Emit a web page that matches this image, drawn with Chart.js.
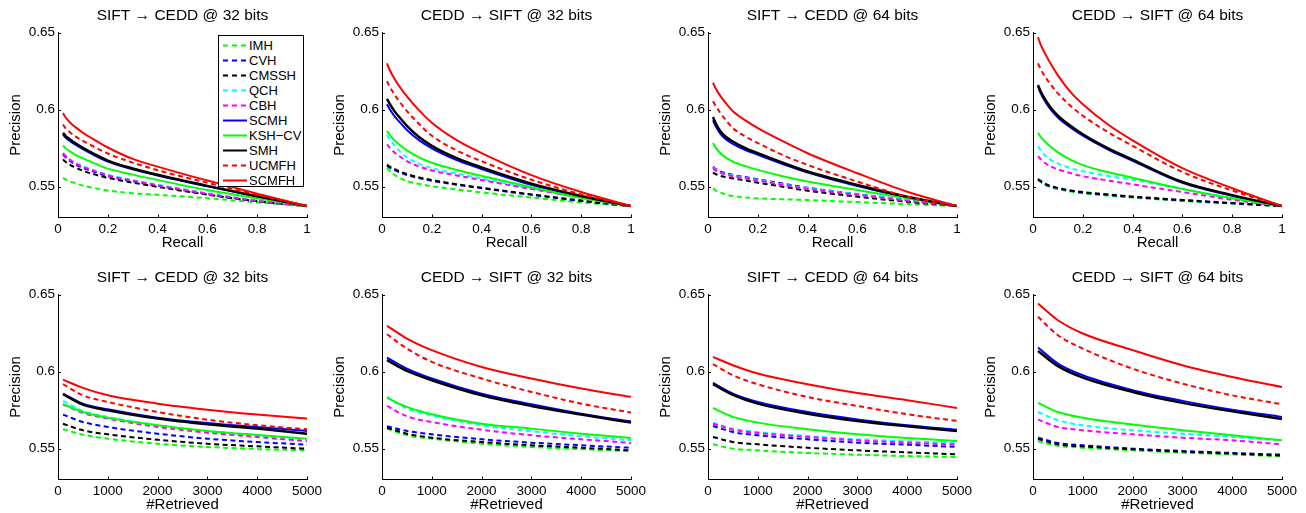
<!DOCTYPE html>
<html><head><meta charset="utf-8">
<script src="https://cdn.jsdelivr.net/npm/chart.js@4"></script>
<style>
html,body{margin:0;padding:0;background:#fff}
body{width:1306px;height:513px;overflow:hidden;position:relative;font-family:"Liberation Sans",Arial,Helvetica,sans-serif}
canvas{position:absolute}
#legend{position:absolute;left:218px;top:35px;width:86px;height:152px;border:1px solid #000;background:#fff;box-sizing:border-box}
.item{position:absolute;left:0;width:84px;height:15px;font-size:13px;line-height:15px;color:#000;white-space:nowrap}
.item svg{position:absolute;left:4px;top:6px}
.item span{position:absolute;left:30px;top:0}
</style></head><body>
<div id="wrap"></div>
<script>
// ---------------- data ----------------
const methods = ['IMH','CVH','CMSSH','QCH','CBH','SCMH','KSH\u2212CV','SMH','UCMFH','SCMFH'];
const titles = ['SIFT \u2192 CEDD @ 32 bits','CEDD \u2192 SIFT @ 32 bits','SIFT \u2192 CEDD @ 64 bits','CEDD \u2192 SIFT @ 64 bits'];
const recallX = [0.02,0.03,0.05,0.07,0.1,0.15,0.2,0.3,0.4,0.6,0.8,1.0];
const retrievedX = [100,500,1000,2000,3000,4000,5000];
const yTicks = [0.55,0.6,0.65];
const recallTicks = [0,0.2,0.4,0.6,0.8,1];
const retrievedTicks = [0,1000,2000,3000,4000,5000];

// precision-recall, rows in order of `methods`
const pr1 = [
 [0.5557,0.5548,0.5533,0.5522,0.5507,0.5490,0.5475,0.5457,0.5447,0.5425,0.5398,0.5374],
 [0.5710,0.5692,0.5665,0.5645,0.5622,0.5594,0.5568,0.5535,0.5506,0.5451,0.5406,0.5374],
 [0.5677,0.5662,0.5640,0.5624,0.5603,0.5578,0.5557,0.5526,0.5499,0.5448,0.5406,0.5374],
 [0.5720,0.5702,0.5675,0.5655,0.5632,0.5603,0.5577,0.5543,0.5513,0.5457,0.5410,0.5374],
 [0.5716,0.5698,0.5671,0.5651,0.5628,0.5599,0.5573,0.5539,0.5509,0.5454,0.5408,0.5374],
 [0.5838,0.5819,0.5794,0.5772,0.5743,0.5700,0.5662,0.5612,0.5572,0.5502,0.5436,0.5374],
 [0.5767,0.5750,0.5727,0.5707,0.5683,0.5649,0.5617,0.5578,0.5543,0.5478,0.5424,0.5374],
 [0.5849,0.5830,0.5805,0.5782,0.5752,0.5708,0.5669,0.5618,0.5577,0.5505,0.5438,0.5374],
 [0.5903,0.5880,0.5850,0.5826,0.5797,0.5754,0.5715,0.5656,0.5607,0.5525,0.5448,0.5374],
 [0.5978,0.5950,0.5913,0.5886,0.5850,0.5800,0.5754,0.5680,0.5630,0.5540,0.5455,0.5374]
];
const pr2 = [
 [0.5622,0.5605,0.5577,0.5558,0.5536,0.5517,0.5503,0.5482,0.5463,0.5430,0.5398,0.5374],
 [0.5635,0.5625,0.5608,0.5594,0.5576,0.5555,0.5538,0.5512,0.5490,0.5447,0.5408,0.5374],
 [0.5643,0.5632,0.5615,0.5600,0.5582,0.5560,0.5543,0.5516,0.5493,0.5450,0.5410,0.5374],
 [0.5835,0.5810,0.5768,0.5732,0.5690,0.5648,0.5620,0.5585,0.5553,0.5490,0.5428,0.5374],
 [0.5775,0.5755,0.5722,0.5697,0.5665,0.5630,0.5605,0.5573,0.5543,0.5485,0.5428,0.5374],
 [0.6035,0.6005,0.5958,0.5920,0.5868,0.5800,0.5748,0.5672,0.5615,0.5512,0.5436,0.5374],
 [0.5860,0.5838,0.5800,0.5772,0.5735,0.5688,0.5655,0.5608,0.5570,0.5496,0.5428,0.5374],
 [0.6070,0.6040,0.5990,0.5950,0.5895,0.5820,0.5765,0.5685,0.5625,0.5520,0.5440,0.5374],
 [0.6185,0.6150,0.6098,0.6052,0.5990,0.5905,0.5830,0.5735,0.5665,0.5545,0.5450,0.5374],
 [0.6300,0.6260,0.6200,0.6150,0.6085,0.5993,0.5915,0.5802,0.5718,0.5575,0.5465,0.5374]
];
const pr3 = [
 [0.5489,0.5476,0.5461,0.5450,0.5439,0.5430,0.5424,0.5418,0.5413,0.5400,0.5387,0.5374],
 [0.5630,0.5616,0.5598,0.5588,0.5576,0.5562,0.5548,0.5520,0.5493,0.5452,0.5413,0.5374],
 [0.5591,0.5582,0.5570,0.5562,0.5554,0.5540,0.5526,0.5500,0.5474,0.5435,0.5402,0.5374],
 [0.5624,0.5610,0.5591,0.5582,0.5572,0.5557,0.5543,0.5515,0.5489,0.5450,0.5413,0.5374],
 [0.5620,0.5606,0.5589,0.5579,0.5568,0.5553,0.5539,0.5511,0.5485,0.5446,0.5409,0.5374],
 [0.5930,0.5895,0.5843,0.5810,0.5778,0.5738,0.5707,0.5647,0.5591,0.5504,0.5430,0.5374],
 [0.5783,0.5755,0.5717,0.5690,0.5663,0.5633,0.5609,0.5568,0.5533,0.5478,0.5424,0.5374],
 [0.5952,0.5915,0.5859,0.5825,0.5793,0.5750,0.5717,0.5655,0.5598,0.5511,0.5435,0.5374],
 [0.6054,0.6025,0.5978,0.5935,0.5880,0.5825,0.5783,0.5705,0.5641,0.5533,0.5435,0.5374],
 [0.6174,0.6140,0.6087,0.6045,0.5989,0.5930,0.5880,0.5795,0.5717,0.5587,0.5467,0.5374]
];
const pr4 = [
 [0.5542,0.5530,0.5510,0.5497,0.5484,0.5468,0.5457,0.5442,0.5429,0.5408,0.5390,0.5374],
 [0.5547,0.5535,0.5515,0.5502,0.5489,0.5473,0.5462,0.5447,0.5433,0.5411,0.5392,0.5374],
 [0.5550,0.5538,0.5518,0.5505,0.5492,0.5476,0.5465,0.5450,0.5436,0.5414,0.5394,0.5374],
 [0.5762,0.5738,0.5700,0.5675,0.5650,0.5620,0.5600,0.5570,0.5545,0.5485,0.5425,0.5374],
 [0.5698,0.5680,0.5652,0.5632,0.5612,0.5588,0.5568,0.5540,0.5515,0.5465,0.5415,0.5374],
 [0.6150,0.6108,0.6050,0.6003,0.5948,0.5884,0.5831,0.5742,0.5668,0.5525,0.5441,0.5374],
 [0.5850,0.5825,0.5790,0.5760,0.5722,0.5675,0.5640,0.5595,0.5558,0.5485,0.5425,0.5374],
 [0.6160,0.6120,0.6062,0.6015,0.5960,0.5895,0.5840,0.5750,0.5675,0.5530,0.5445,0.5374],
 [0.6300,0.6265,0.6210,0.6165,0.6105,0.6025,0.5960,0.5855,0.5765,0.5595,0.5475,0.5374],
 [0.6470,0.6425,0.6358,0.6300,0.6222,0.6115,0.6035,0.5905,0.5800,0.5620,0.5490,0.5374]
];
// precision vs #retrieved
const pn1 = [
 [0.5626,0.5591,0.5565,0.5532,0.5511,0.5498,0.5489],
 [0.5721,0.5673,0.5641,0.5597,0.5565,0.5543,0.5526],
 [0.5662,0.5619,0.5593,0.5558,0.5532,0.5515,0.5500],
 [0.5810,0.5745,0.5706,0.5652,0.5613,0.5587,0.5558],
 [0.5788,0.5732,0.5695,0.5641,0.5604,0.5576,0.5548],
 [0.5857,0.5792,0.5755,0.5701,0.5667,0.5641,0.5615],
 [0.5788,0.5738,0.5701,0.5652,0.5615,0.5589,0.5565],
 [0.5853,0.5786,0.5749,0.5695,0.5658,0.5630,0.5597],
 [0.5918,0.5846,0.5803,0.5738,0.5688,0.5652,0.5626],
 [0.5948,0.5894,0.5846,0.5792,0.5753,0.5721,0.5695]
];
const pn2 = [
 [0.5630,0.5587,0.5565,0.5532,0.5511,0.5496,0.5483],
 [0.5645,0.5615,0.5593,0.5561,0.5539,0.5522,0.5506],
 [0.5636,0.5597,0.5571,0.5543,0.5522,0.5506,0.5489],
 [0.5836,0.5760,0.5716,0.5652,0.5613,0.5580,0.5554],
 [0.5777,0.5710,0.5673,0.5623,0.5587,0.5561,0.5537],
 [0.6091,0.6019,0.5955,0.5857,0.5788,0.5727,0.5677],
 [0.5829,0.5771,0.5723,0.5662,0.5630,0.5597,0.5569],
 [0.6074,0.6004,0.5944,0.5846,0.5777,0.5721,0.5669],
 [0.6242,0.6149,0.6063,0.5955,0.5868,0.5792,0.5734],
 [0.6297,0.6214,0.6139,0.6030,0.5955,0.5890,0.5836]
];
const pn3 = [
 [0.5528,0.5500,0.5489,0.5472,0.5461,0.5452,0.5446],
 [0.5647,0.5608,0.5587,0.5561,0.5539,0.5526,0.5511],
 [0.5576,0.5543,0.5528,0.5506,0.5489,0.5476,0.5463],
 [0.5669,0.5630,0.5608,0.5582,0.5561,0.5548,0.5537],
 [0.5662,0.5623,0.5602,0.5576,0.5554,0.5539,0.5526],
 [0.5926,0.5857,0.5803,0.5738,0.5690,0.5652,0.5623],
 [0.5764,0.5706,0.5669,0.5626,0.5593,0.5569,0.5550],
 [0.5918,0.5849,0.5792,0.5727,0.5680,0.5645,0.5615],
 [0.6048,0.5976,0.5918,0.5835,0.5777,0.5723,0.5680],
 [0.6095,0.6041,0.5987,0.5918,0.5861,0.5814,0.5764]
];
const pn4 = [
 [0.5548,0.5519,0.5506,0.5489,0.5474,0.5463,0.5450],
 [0.5571,0.5537,0.5522,0.5500,0.5485,0.5472,0.5461],
 [0.5563,0.5528,0.5515,0.5496,0.5481,0.5468,0.5455],
 [0.5738,0.5684,0.5652,0.5619,0.5597,0.5576,0.5554],
 [0.5688,0.5641,0.5619,0.5593,0.5571,0.5554,0.5528],
 [0.6156,0.6052,0.5976,0.5879,0.5810,0.5753,0.5706],
 [0.5797,0.5738,0.5701,0.5656,0.5619,0.5587,0.5554],
 [0.6134,0.6035,0.5961,0.5868,0.5797,0.5742,0.5693],
 [0.6355,0.6236,0.6149,0.6019,0.5922,0.5846,0.5788],
 [0.6442,0.6333,0.6247,0.6139,0.6041,0.5965,0.5900]
];

// ---------------- styles ----------------
const colors = ['#00ff00','#0000ff','#000000','#00ffff','#ff00ff','#0000ff','#00ff00','#000000','#ff0000','#ff0000'];
const dashed = [true,true,true,true,true,false,false,false,true,false];
const widths = [2,2,2,2,2,2,2,2.5,2,2];
const FAMILY = '"Liberation Sans", Arial, Helvetica, sans-serif';

const inwardTicks = {
  id:'inwardTicks',
  afterDatasetsDraw(chart){
    const {ctx, chartArea:a, scales:{x,y}} = chart;
    ctx.save();
    ctx.strokeStyle='#000'; ctx.lineWidth=1; ctx.setLineDash([]);
    ctx.beginPath();
    x.ticks.forEach(t=>{const px=Math.round(x.getPixelForValue(t.value))+0.5; ctx.moveTo(px,a.bottom); ctx.lineTo(px,a.bottom-3);});
    y.ticks.forEach(t=>{const py=Math.round(y.getPixelForValue(t.value))+0.5; ctx.moveTo(a.left,py); ctx.lineTo(a.left+3,py);});
    ctx.stroke();
    ctx.restore();
  }
};

function makeChart(left, top, title, xs, ys, xTicks, xMax, xLabel){
  const c = document.createElement('canvas');
  c.width = 330; c.height = 252;
  c.style.left = left+'px'; c.style.top = top+'px';
  c.style.width = '330px'; c.style.height = '252px';
  document.getElementById('wrap').appendChild(c);
  return new Chart(c, {
    type:'line',
    data:{datasets: methods.map((m,k)=>({
      label:m,
      data: xs.map((x,j)=>({x:x, y:ys[k][j]})),
      borderColor: colors[k], backgroundColor: colors[k],
      borderWidth: widths[k], borderDash: dashed[k]?[5,3.5]:[],
      pointRadius:0, fill:false, cubicInterpolationMode:'monotone',
      order: 9-k
    }))},
    options:{
      responsive:false, animation:false, events:[], devicePixelRatio:1,
      layout:{padding:{left:0,right:23,top:0,bottom:0}},
      plugins:{
        legend:{display:false}, tooltip:{enabled:false},
        title:{display:true, text:title, fullSize:false, color:'#000',
          font:{family:FAMILY, size:15.5, weight:'normal', lineHeight:1.2},
          padding:{top:6, bottom:7.9}}
      },
      scales:{
        x:{type:'linear', min:0, max:xMax,
          grid:{display:false, drawTicks:false},
          border:{display:true, color:'#000', width:1},
          ticks:{color:'#000', font:{family:FAMILY, size:13.5}, padding:3.5, autoSkip:false, maxRotation:0, callback:v=>String(v)},
          afterBuildTicks:s=>{s.ticks = xTicks.map(v=>({value:v}));},
          afterFit:s=>{s.height = 34.5;},
          title:{display:true, text:xLabel, color:'#000', font:{family:FAMILY, size:15, lineHeight:1.2}, padding:{top:0,bottom:0}}
        },
        y:{type:'linear', min:0.53, max:0.65,
          grid:{display:false, drawTicks:false},
          border:{display:true, color:'#000', width:1},
          ticks:{color:'#000', font:{family:FAMILY, size:13.5}, padding:3, autoSkip:false, callback:v=>String(v)},
          afterBuildTicks:s=>{s.ticks = yTicks.map(v=>({value:v}));},
          afterFit:s=>{s.width = 58;},
          title:{display:true, text:'Precision', color:'#000', font:{family:FAMILY, size:15, lineHeight:1.2}, padding:{top:7,bottom:0}}
        }
      }
    },
    plugins:[inwardTicks]
  });
}

const lefts = [0,324,650,975];
const prData = [pr1,pr2,pr3,pr4];
const pnData = [pn1,pn2,pn3,pn4];
for(let i=0;i<4;i++){
  makeChart(lefts[i], 0, titles[i], recallX, prData[i], recallTicks, 1, 'Recall');
}
for(let i=0;i<4;i++){
  makeChart(lefts[i], 262, titles[i], retrievedX, pnData[i], retrievedTicks, 5000, '#Retrieved');
}

// legend (inside first plot)
const lg = document.createElement('div'); lg.id='legend';
methods.forEach((m,k)=>{
  const it = document.createElement('div'); it.className='item';
  it.style.top = (10 + 15.08*k - 7.5 - 1)+'px';
  const dash = dashed[k] ? ' stroke-dasharray="5,4"' : '';
  it.innerHTML = '<svg width="24" height="3"><line x1="0" y1="1.5" x2="24" y2="1.5" stroke="'+colors[k]+'" stroke-width="2"'+dash+'/></svg><span>'+m+'</span>';
  lg.appendChild(it);
});
document.body.appendChild(lg);
</script>
</body></html>
